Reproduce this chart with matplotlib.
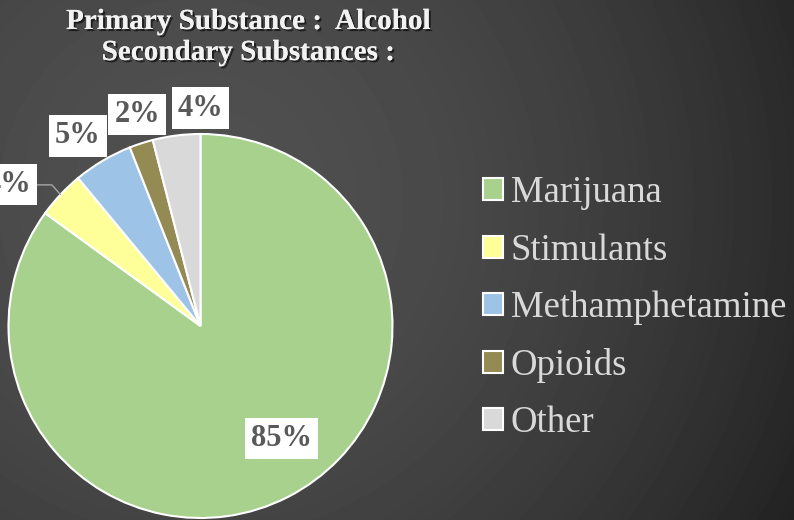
import numpy as np
import matplotlib.pyplot as plt
import matplotlib.patheffects as pe

# substance shares (percent)
substances = ["Marijuana", "Stimulants", "Methamphetamine", "Opioids", "Other"]
shares = [85, 4, 5, 2, 4]
colors = ["#a9d18e", "#ffff99", "#9dc3e6", "#948a54", "#d9d9d9"]

title_lines = ["Primary Substance :  Alcohol", "Secondary Substances :"]

# where each percent label sits, in pie-radius units
label_pos = [(0.42, -0.585), (-1.0, 0.735), (-0.64, 0.99), (-0.33, 1.10), (0.0, 1.135)]

W, H = 794, 520
fig = plt.figure(figsize=(W / 100, H / 100), dpi=100)

# dark radial backdrop
bg = fig.add_axes([0, 0, 1, 1])
yy, xx = np.mgrid[0:H, 0:W]
d = np.hypot(xx - 200, yy - 200)
shade = 80 - 46 * (d / 674) ** 1.8
bg.imshow(shade, cmap="gray", vmin=0, vmax=255, extent=[0, W, H, 0], aspect="auto")
bg.set_xlim(0, W)
bg.set_ylim(H, 0)
bg.axis("off")

# pie: center (200.5, 326) px, radius 192 px
cx, cy, r = 200.5, 326, 192
ax = fig.add_axes([(cx - r) / W, (H - cy - r) / H, 2 * r / W, 2 * r / H])
wedges, _ = ax.pie(shares, colors=colors, startangle=90, counterclock=False,
                   wedgeprops=dict(edgecolor="white", linewidth=1.5))
ax.set_xlim(-1, 1)
ax.set_ylim(-1, 1)
ax.set_aspect("equal")
ax.axis("off")

lab_style = dict(fontsize=22, fontweight="bold", family="Liberation Serif",
                 color="#595959", ha="center", va="center",
                 bbox=dict(boxstyle="square,pad=0.2", fc="white", ec="none"))

for i, (w, v) in enumerate(zip(wedges, shares)):
    txt = f"{v}%"
    lx, ly = label_pos[i]
    if substances[i] == "Stimulants":
        # leader line from the slice edge
        mid = np.deg2rad((w.theta1 + w.theta2) / 2)
        ax.annotate(txt, xy=(np.cos(mid), np.sin(mid)), xytext=(lx, ly),
                    arrowprops=dict(arrowstyle="-", color="#a6a6a6", lw=1,
                                    connectionstyle="angle,angleA=0,angleB=132,rad=0",
                                    shrinkA=0, shrinkB=0),
                    annotation_clip=False, **lab_style)
    else:
        ax.text(lx, ly, txt, clip_on=False, **lab_style)

# title
shadow = [pe.withSimplePatchShadow(offset=(1.5, -1.5), shadow_rgbFace="black", alpha=0.6),
          pe.Normal()]
for line, base in zip(title_lines, [29, 60]):
    fig.text(248 / W, 1 - base / H, line, ha="center", va="baseline",
             fontsize=21, fontweight="bold", family="Liberation Serif",
             color="#f2f2f2", path_effects=shadow)

leg = fig.legend(wedges, substances, loc="center left",
                 bbox_to_anchor=(483 / W, 1 - 308 / H),
                 frameon=False, borderpad=0, borderaxespad=0,
                 handlelength=0.54, handleheight=0.54, handletextpad=0.22,
                 labelspacing=0.62,
                 prop=dict(family="Liberation Serif", size=26.5))
for t in leg.get_texts():
    t.set_color("#d9d9d9")

fig.savefig("out.png", dpi=100)
